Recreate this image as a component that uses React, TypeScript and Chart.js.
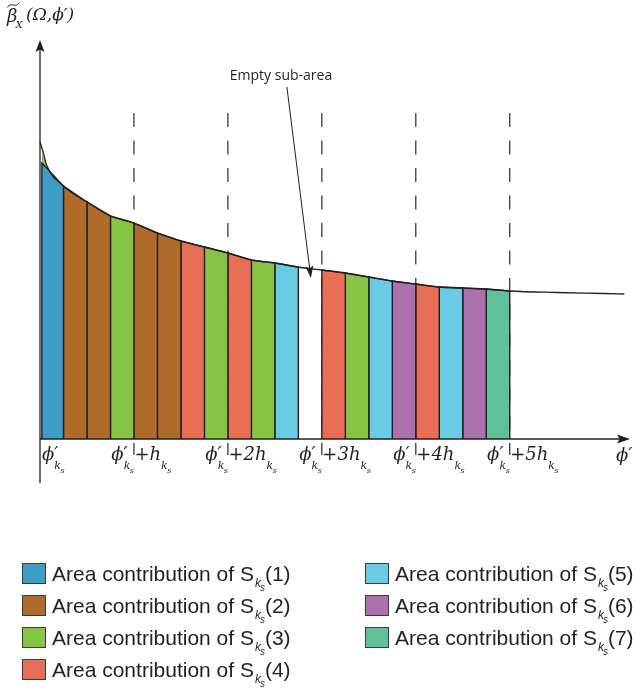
import { useEffect, useRef } from "react";
import { Chart, registerables } from "chart.js";

Chart.register(...registerables);

const INK = "#231f20";
const SERIF = '"DejaVu Serif", "Liberation Serif", serif';
const SANS = '"Liberation Sans", Arial, sans-serif';

// Series S_ks(1) … S_ks(7)
const seriesLabels = ["1", "2", "3", "4", "5", "6", "7"];
const seriesColors = ["#3e9ec5", "#b06b2b", "#87c441", "#e86f56", "#69cce4", "#ab70ad", "#5fc197"];

// Series that fills each quarter-step sub-area (0 = empty sub-area)
const slotSeries = [1, 2, 2, 3, 2, 2, 4, 3, 4, 3, 5, 0, 4, 3, 5, 6, 4, 5, 6, 7];
const slotWidth = 0.25; // in units of h_ks
const firstSlotStart = 0.02;

// Curve height at each sub-area boundary: ϕ' = ϕ'_ks + 0, 0.25h, …, 5h
const edgeHeights = [
  2.76, 2.53, 2.37, 2.23, 2.16, 2.06, 1.98, 1.92, 1.86, 1.79, 1.76,
  1.72, 1.69, 1.66, 1.62, 1.58, 1.55, 1.52, 1.51, 1.5, 1.48,
];

// Steep start of the curve at ϕ'_ks and its tail beyond +5h
const curveHeadX = [0, 0.03, 0.07];
const curveHeadY = [2.97, 2.88, 2.74];
const curveTailX = [5.5, 6.0, 6.22];
const curveTailY = [1.465, 1.455, 1.45];

// Thin sliver of S_ks(3) above the first bar
const sliverX = [0.02, 0.02, 0.075, 0.075];
const sliverY = [0, 2.87, 2.72, 0];

// Tick multiples of h_ks on the ϕ' axis
const tickSteps = [0, 1, 2, 3, 4, 5];
const guideSteps = [1, 2, 3, 4, 5];
const guideTop = 3.26;
const guideBottom = -0.16;

// Axis extent
const xMax = 6.28;
const yMin = -0.44;
const yMax = 3.99;

// "Empty sub-area" pointer (data units)
const noteFrom = { x: 2.628, y: 3.52 };
const noteTo = { x: 2.883, y: 1.61 };

type Run = { t: string; f: string; dy?: number; dx?: number };

function runsWidth(ctx: CanvasRenderingContext2D, runs: Run[]) {
  let w = 0;
  for (const r of runs) {
    ctx.font = r.f;
    w += (r.dx || 0) + ctx.measureText(r.t).width;
  }
  return w;
}

function drawRuns(ctx: CanvasRenderingContext2D, x: number, y: number, runs: Run[]) {
  let cx = x;
  for (const r of runs) {
    ctx.font = r.f;
    cx += r.dx || 0;
    ctx.fillText(r.t, cx, y + (r.dy || 0));
    cx += ctx.measureText(r.t).width;
  }
  return cx;
}

function arrowHead(
  ctx: CanvasRenderingContext2D,
  tx: number,
  ty: number,
  dx: number,
  dy: number,
  len: number,
  half: number
) {
  const n = Math.hypot(dx, dy);
  const ux = dx / n;
  const uy = dy / n;
  const bx = tx - ux * len;
  const by = ty - uy * len;
  const nx = bx + ux * len * 0.2;
  const ny = by + uy * len * 0.2;
  ctx.beginPath();
  ctx.moveTo(tx, ty);
  ctx.lineTo(bx - uy * half, by + ux * half);
  ctx.lineTo(nx, ny);
  ctx.lineTo(bx + uy * half, by - ux * half);
  ctx.closePath();
  ctx.fill();
}

const it = (size: number) => `italic ${size}px ${SERIF}`;

function phiKs(): Run[] {
  return [
    { t: "\u03D5\u2032", f: it(18) },
    { t: "k", f: it(11), dy: 9, dx: -4 },
    { t: "s", f: it(8), dy: 13, dx: -0.5 },
  ];
}

function hKs(n: number): Run[] {
  return [
    { t: `+${n > 1 ? n : ""}h`, f: it(18), dx: 0.5 },
    { t: "k", f: it(11), dy: 9, dx: 0 },
    { t: "s", f: it(8), dy: 13, dx: -0.5 },
  ];
}

const decorations = {
  id: "decorations",
  afterDraw(chart: any) {
    const ctx: CanvasRenderingContext2D = chart.ctx;
    const xs = chart.scales.x;
    const ys = chart.scales.y;
    const px = (v: number) => xs.getPixelForValue(v);
    const py = (v: number) => ys.getPixelForValue(v);
    ctx.save();
    ctx.fillStyle = INK;
    ctx.strokeStyle = INK;
    ctx.textBaseline = "alphabetic";

    // axis arrowheads
    arrowHead(ctx, px(0), py(yMax), 0, -1, 12, 4.5);
    arrowHead(ctx, px(xMax), py(0), 1, 0, 13, 4.5);

    // ϕ' tick labels
    const base = py(0) + 21;
    tickSteps.forEach((n) => {
      const head = phiKs();
      if (n === 0) {
        drawRuns(ctx, px(0) + 2, base, head);
      } else {
        const w = runsWidth(ctx, head);
        drawRuns(ctx, px(n) - w, base, [...head, ...hKs(n)]);
      }
    });

    // axis titles
    drawRuns(ctx, px(xMax) - 14, base + 1, [{ t: "\u03D5\u2032", f: it(18) }]);
    const tx = 7;
    const tEnd = drawRuns(ctx, tx, 22, [{ t: "\u03B2", f: it(18) }]);
    ctx.lineWidth = 1;
    ctx.beginPath();
    ctx.moveTo(tx + 0.5, 7.5);
    ctx.bezierCurveTo(tx + 4, 1, tx + 8, 9, tx + 12.5, 2.5);
    ctx.stroke();
    drawRuns(ctx, tEnd - 2, 28, [{ t: "X", f: it(10) }]);
    drawRuns(ctx, 26, 20, [{ t: "(\u03A9,\u03D5\u2032)", f: it(17) }]);

    // empty sub-area note
    ctx.font = `14px "Open Sans", "Noto Sans", sans-serif`;
    ctx.textAlign = "center";
    ctx.fillText("Empty sub-area", 281, 80);
    ctx.textAlign = "left";
    const ax = px(noteFrom.x);
    const ay = py(noteFrom.y);
    const bx = px(noteTo.x);
    const by = py(noteTo.y);
    ctx.lineWidth = 1;
    ctx.beginPath();
    ctx.moveTo(ax, ay);
    ctx.lineTo(bx - (bx - ax) * 0.04, by - (by - ay) * 0.04);
    ctx.stroke();
    arrowHead(ctx, bx, by, bx - ax, by - ay, 12, 4);

    // legend
    const rows = [
      [0, 22, 563],
      [1, 22, 595],
      [2, 22, 627],
      [3, 22, 659],
      [4, 365, 563],
      [5, 365, 595],
      [6, 365, 627],
    ];
    rows.forEach(([i, x, y]) => {
      ctx.fillStyle = seriesColors[i];
      ctx.fillRect(x, y, 24, 21);
      ctx.strokeStyle = "#3a3a3a";
      ctx.lineWidth = 1;
      ctx.strokeRect(x + 0.5, y + 0.5, 23, 20);
      ctx.fillStyle = INK;
      drawRuns(ctx, x + 30, y + 18, [
        { t: "Area contribution of S", f: `21px ${SANS}` },
        { t: "k", f: `italic 12px ${SANS}`, dy: 6, dx: 1 },
        { t: "s", f: `italic 10px ${SANS}`, dy: 10, dx: -1 },
        { t: `(${seriesLabels[i]})`, f: `21px ${SANS}`, dx: 0 },
      ]);
    });

    ctx.restore();
  },
};

export default function App() {
  const ref = useRef<HTMLCanvasElement>(null);

  useEffect(() => {
    const line = (extra: any) => ({
      type: "line",
      pointRadius: 0,
      pointHoverRadius: 0,
      tension: 0,
      clip: false,
      ...extra,
    });

    const bars = slotSeries.flatMap((s, i) => {
      if (s === 0) return [];
      const x0 = i === 0 ? firstSlotStart : i * slotWidth;
      const x1 = (i + 1) * slotWidth;
      return [
        line({
          label: `S(${s}) slot ${i}`,
          data: [
            { x: x0, y: 0 },
            { x: x0, y: edgeHeights[i] },
            { x: x1, y: edgeHeights[i + 1] },
            { x: x1, y: 0 },
          ],
          backgroundColor: seriesColors[s - 1],
          borderColor: INK,
          borderWidth: 1.4,
          borderJoinStyle: "miter",
          fill: "origin",
          order: 3,
        }),
      ];
    });

    const curveX = [...curveHeadX, ...edgeHeights.slice(1).map((_, k) => (k + 1) * slotWidth), ...curveTailX];
    const curveY = [...curveHeadY, ...edgeHeights.slice(1), ...curveTailY];

    const datasets: any[] = [
      line({
        label: "curve",
        data: curveX.map((x, k) => ({ x, y: curveY[k] })),
        borderColor: INK,
        borderWidth: 1.3,
        cubicInterpolationMode: "monotone",
        fill: false,
        order: 0,
      }),
      line({
        label: "x axis",
        data: [
          { x: 0, y: 0 },
          { x: xMax - 0.05, y: 0 },
        ],
        borderColor: INK,
        borderWidth: 1.5,
        fill: false,
        order: 1,
      }),
      line({
        label: "y axis",
        data: [
          { x: 0, y: yMin },
          { x: 0, y: yMax - 0.05 },
        ],
        borderColor: INK,
        borderWidth: 1.3,
        fill: false,
        order: 1,
      }),
      ...bars,
      line({
        label: "sliver",
        data: sliverX.map((x, k) => ({ x, y: sliverY[k] })),
        backgroundColor: seriesColors[2],
        borderWidth: 0,
        borderColor: "rgba(0,0,0,0)",
        fill: "origin",
        order: 4,
      }),
      ...guideSteps.map((n) =>
        line({
          label: `guide ${n}`,
          data: [
            { x: n, y: guideTop },
            { x: n, y: guideBottom },
          ],
          borderColor: "#2a2a2a",
          borderWidth: 1.2,
          borderDash: [14, 13.5],
          fill: false,
          order: 5,
        })
      ),
    ];

    const chart = new Chart(ref.current as HTMLCanvasElement, {
      type: "line",
      data: { datasets },
      options: {
        responsive: false,
        animation: false,
        devicePixelRatio: 1,
        layout: { padding: { left: 40, right: 13, top: 40, bottom: 209 } },
        scales: {
          x: { type: "linear", min: 0, max: xMax, display: false },
          y: { type: "linear", min: yMin, max: yMax, display: false },
        },
        plugins: {
          legend: { display: false },
          tooltip: { enabled: false },
        },
        events: [],
      },
      plugins: [decorations],
    } as any);

    return () => chart.destroy();
  }, []);

  return (
    <div style={{ position: "absolute", left: 0, top: 0, width: 643, height: 692, background: "#fff" }}>
      <canvas ref={ref} width={643} height={692} style={{ display: "block", width: 643, height: 692 }} />
    </div>
  );
}
